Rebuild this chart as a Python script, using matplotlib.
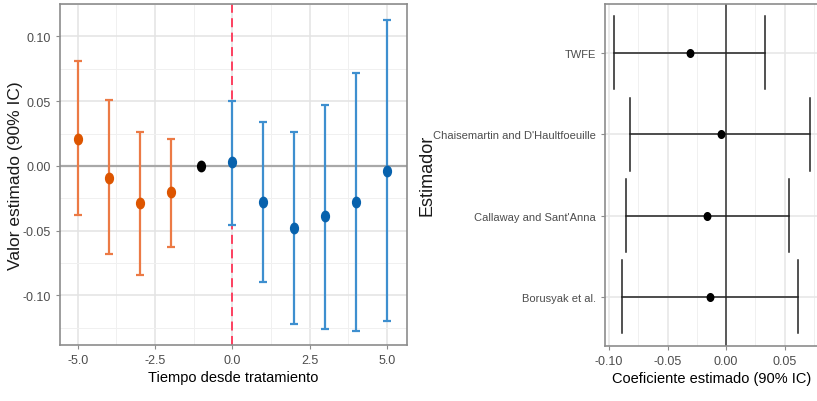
import matplotlib.pyplot as plt
from matplotlib.path import Path
import numpy as np

# Event study: estimates by time relative to treatment
tiempo = [-5, -4, -3, -2, -1, 0, 1, 2, 3, 4, 5]
estimado = [0.021, -0.009, -0.029, -0.0205, 0.0, 0.003, -0.028, -0.048, -0.039, -0.028, -0.004]
ic_sup = [0.081, 0.051, 0.026, 0.021, np.nan, 0.050, 0.034, 0.026, 0.047, 0.072, 0.113]
ic_inf = [-0.038, -0.068, -0.084, -0.063, np.nan, -0.0455, -0.090, -0.122, -0.126, -0.1275, -0.120]

# Overall coefficient by estimator
estimadores = ["TWFE", "Chaisemartin and D'Haultfoeuille", "Callaway and Sant'Anna", "Borusyak et al."]
coef = [-0.0312, -0.0047, -0.0162, -0.0134]
coef_inf = [-0.0961, -0.0817, -0.0858, -0.0886]
coef_sup = [0.0334, 0.072, 0.0536, 0.0616]

FONT = ['Liberation Sans', 'DejaVu Sans']
TICK_COL = '#4D4D4D'
plt.rcParams['font.family'] = FONT


def oval(rx):
    # slightly narrow circle marker
    c = Path.unit_circle()
    return Path(c.vertices * [rx, 1.0], c.codes)


def style_axes(ax):
    for s in ax.spines.values():
        s.set_color('#8C8C8C')
        s.set_linewidth(1.2)
    ax.tick_params(length=3, color='#8C8C8C', labelcolor=TICK_COL, labelsize=9)
    ax.tick_params(which='minor', length=0)
    ax.set_axisbelow(True)


fig = plt.figure(figsize=(8.17, 4.02), dpi=100)

# ---- left panel ----
ax1 = fig.add_axes([60 / 817, 56.4 / 402, 347 / 817, 340.6 / 402])
ax1.set_xlim(-5.57, 5.64)
ax1.set_ylim(-0.138, 0.125)
ax1.set_xticks([-5, -2.5, 0, 2.5, 5])
ax1.set_xticklabels(['-5.0', '-2.5', '0.0', '2.5', '5.0'])
ax1.set_xticks(np.arange(-3.75, 5, 2.5), minor=True)
ax1.set_yticks([-0.10, -0.05, 0.0, 0.05, 0.10])
ax1.set_yticklabels(['-0.10', '-0.05', '0.00', '0.05', '0.10'])
ax1.set_yticks([-0.125, -0.075, -0.025, 0.025, 0.075, 0.125], minor=True)
ax1.grid(which='major', color='#E3E3E3', lw=1.1)
ax1.grid(which='minor', color='#F0F0F0', lw=0.7)

ax1.axhline(0, color='#A8A8A8', lw=1.6, zorder=1)
ax1.axvline(0, color='#FF3355', lw=1.3, ls=(0, (5, 3)), zorder=2)

for t, e, lo, hi in zip(tiempo, estimado, ic_inf, ic_sup):
    if t < -1:
        bar_c, pt_c = '#EC7A45', '#DD5500'
    elif t == -1:
        bar_c, pt_c = 'black', 'black'
    else:
        bar_c, pt_c = '#3E8FCF', '#0862AD'
    if not np.isnan(lo):
        ax1.errorbar(t, e, yerr=[[e - lo], [hi - e]], fmt='none', ecolor=bar_c,
                     elinewidth=1.6, capsize=3, capthick=1.6, zorder=3)
    ax1.plot(t, e, marker=oval(0.75), color=pt_c, ms=7.5, ls='none', zorder=4)

ax1.set_xlabel('Tiempo desde tratamiento', fontsize=10.5, labelpad=3)
ax1.set_ylabel('Valor estimado (90% IC)', fontsize=12.5, color='#1A1A1A')
ax1.yaxis.set_label_coords(-0.106, 0.5)
style_axes(ax1)

# ---- right panel ----
ax2 = fig.add_axes([605 / 817, 55.3 / 402, 214 / 817, 341.7 / 402])
ypos = np.arange(len(estimadores))[::-1]
ax2.set_ylim(-0.6, len(estimadores) - 1 + 0.6)
ax2.set_xlim(-0.1035, 0.0795)
ax2.set_xticks([-0.10, -0.05, 0.0, 0.05])
ax2.set_xticklabels(['-0.10', '-0.05', '0.00', '0.05'])
ax2.set_xticks([-0.075, -0.025, 0.025, 0.075], minor=True)
ax2.set_yticks(ypos)
ax2.set_yticklabels(estimadores, fontsize=8)
ax2.grid(which='major', color='#E6E6E6', lw=1.1)
ax2.grid(which='minor', axis='x', color='#F0F0F0', lw=0.7)

ax2.axvline(0, color='#333333', lw=1.1, zorder=2)
for y, c, lo, hi in zip(ypos, coef, coef_inf, coef_sup):
    ax2.plot([lo, hi], [y, y], color='#222222', lw=1.1, zorder=3)
    ax2.plot([lo, lo], [y - 0.45, y + 0.45], color='#222222', lw=1.1, zorder=3)
    ax2.plot([hi, hi], [y - 0.45, y + 0.45], color='#222222', lw=1.1, zorder=3)
    ax2.plot(c, y, marker=oval(0.85), color='black', ms=5.5, ls='none', zorder=4)

ax2.set_xlabel('Coeficiente estimado (90% IC)', fontsize=10.5, labelpad=3)
ax2.set_ylabel('Estimador', fontsize=13, color='#1A1A1A')
ax2.yaxis.set_label_coords(-0.793, 0.5)
style_axes(ax2)
ax2.tick_params(axis='y', labelsize=8)

fig.savefig('out.png', dpi=100, facecolor='white')
plt.close(fig)
